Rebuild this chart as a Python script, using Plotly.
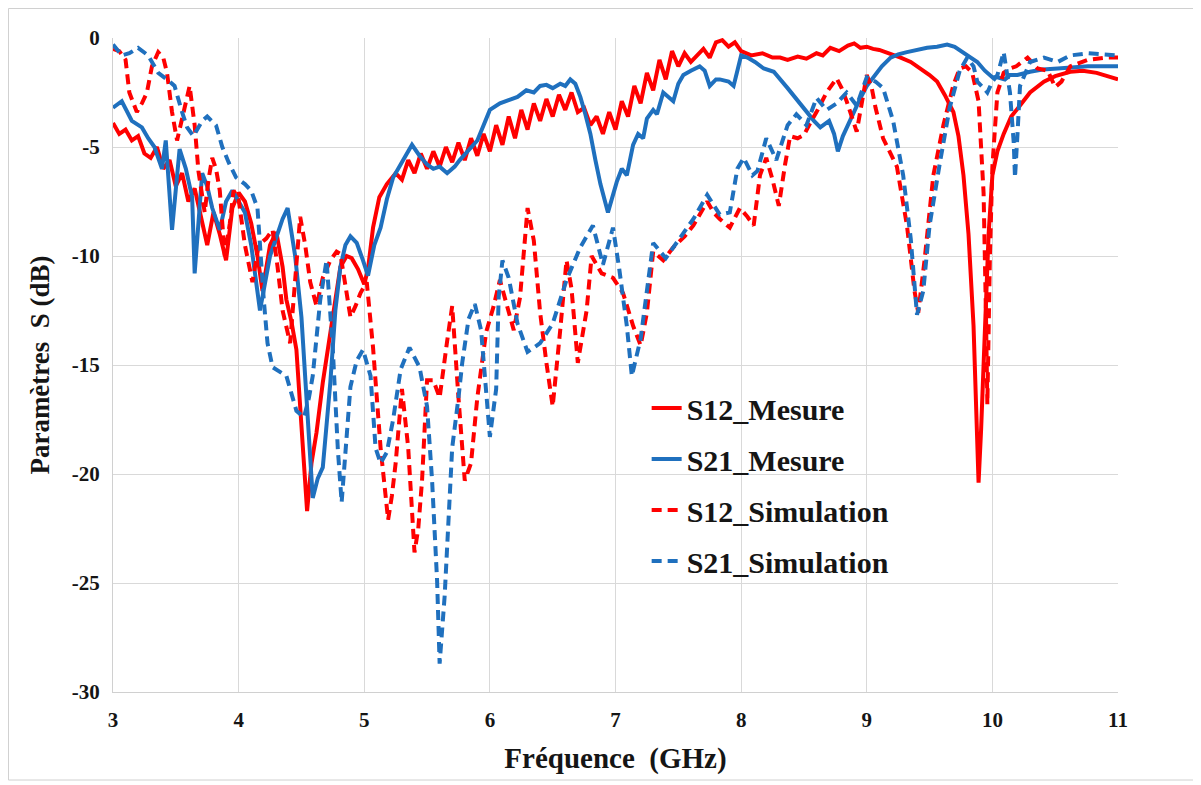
import plotly.graph_objects as go

# ---------------- data ----------------
s12_mes_f = [3.0, 3.05, 3.1, 3.15, 3.2, 3.25, 3.3, 3.35, 3.4, 3.45, 3.5, 3.55, 3.6, 3.65, 3.7, 3.75, 3.8, 3.85,
             3.9, 3.95, 4.0, 4.05, 4.1, 4.15, 4.19, 4.25, 4.3, 4.35, 4.38, 4.42, 4.46, 4.5, 4.545, 4.58, 4.62,
             4.67, 4.73, 4.78, 4.81, 4.86, 4.9, 4.95, 5.0, 5.03, 5.07, 5.12, 5.18, 5.25, 5.3, 5.35, 5.4, 5.45,
             5.5, 5.55, 5.6, 5.65, 5.7, 5.75, 5.8, 5.85, 5.9, 5.95, 6.0, 6.05, 6.1, 6.15, 6.2, 6.25, 6.3, 6.35,
             6.4, 6.45, 6.5, 6.55, 6.6, 6.65, 6.7, 6.75, 6.8, 6.85, 6.9, 6.95, 7.0, 7.05, 7.1, 7.15, 7.2, 7.25,
             7.3, 7.35, 7.4, 7.45, 7.5, 7.55, 7.6, 7.65, 7.7, 7.75, 7.8, 7.85, 7.9, 7.95, 8.0, 8.08, 8.17, 8.25,
             8.31, 8.37, 8.45, 8.52, 8.6, 8.65, 8.71, 8.78, 8.85, 8.9, 8.95, 9.0, 9.05, 9.1, 9.18, 9.27, 9.35,
             9.43, 9.5, 9.56, 9.62, 9.69, 9.73, 9.77, 9.81, 9.85, 9.87, 9.89, 9.91, 9.94, 9.97, 10.0, 10.04,
             10.09, 10.15, 10.22, 10.3, 10.41, 10.5, 10.62, 10.72, 10.83, 10.92, 11.0]
s12_mes_db = [-3.9, -4.4, -4.2, -4.7, -4.5, -5.3, -5.5, -5.0, -6.0, -5.6, -6.8, -6.2, -7.5, -6.9, -8.2, -9.5, -8.0, -9.0,
              -10.2, -7.8, -7.1, -7.5, -8.5, -10.0, -11.6, -9.5, -8.9, -10.5, -12.0, -13.0, -14.3, -17.5, -21.7, -19.5, -18.1,
              -15.8, -13.5, -11.5, -10.5, -10.0, -10.1, -10.6, -11.3, -10.6, -8.7, -7.3, -6.7, -6.2, -6.5, -5.6, -6.2, -5.3,
              -6.0, -5.2, -5.9, -5.0, -5.7, -4.8, -5.6, -4.6, -5.4, -4.4, -5.2, -4.0, -4.9, -3.6, -4.6, -3.3, -4.2, -3.0,
              -3.8, -2.8, -3.6, -2.6, -3.3, -2.5, -3.4, -3.2, -4.0, -3.6, -4.4, -3.4, -4.2, -2.9, -3.6, -2.2, -3.0, -1.6,
              -2.4, -1.0, -1.9, -0.6, -1.3, -0.7, -1.1, -0.8, -0.5, -0.9, -0.2, -0.1, -0.4, -0.2, -0.6, -0.8, -0.7, -0.9,
              -0.9, -1.0, -0.85, -0.95, -0.7, -0.8, -0.45, -0.6, -0.35, -0.25, -0.45, -0.4, -0.5, -0.55, -0.7, -0.9, -1.1,
              -1.4, -1.7, -2.0, -2.6, -3.4, -4.5, -6.3, -9.0, -13.2, -17.0, -20.4, -18.0, -13.2, -9.0, -6.3, -5.2,
              -4.4, -3.6, -3.1, -2.5, -2.0, -1.75, -1.55, -1.5, -1.6, -1.75, -1.9]

s21_mes_f = [3.0, 3.07, 3.15, 3.23, 3.28, 3.33, 3.39, 3.42, 3.47, 3.53, 3.58, 3.63, 3.65, 3.71, 3.75, 3.79, 3.85,
             3.9, 3.95, 4.0, 4.05, 4.1, 4.17, 4.25, 4.3, 4.35, 4.39, 4.45, 4.5, 4.55, 4.59, 4.63, 4.67, 4.73, 4.77,
             4.81, 4.85, 4.89, 4.94, 4.99, 5.03, 5.08, 5.13, 5.18, 5.23, 5.31, 5.38, 5.44, 5.5, 5.55, 5.6, 5.66,
             5.72, 5.76, 5.82, 5.9, 5.95, 6.0, 6.08, 6.16, 6.22, 6.29, 6.35, 6.4, 6.45, 6.5, 6.56, 6.6, 6.64, 6.68,
             6.72, 6.76, 6.8, 6.84, 6.88, 6.94, 6.98, 7.01, 7.05, 7.09, 7.14, 7.18, 7.22, 7.25, 7.3, 7.33, 7.38,
             7.42, 7.46, 7.5, 7.54, 7.6, 7.67, 7.71, 7.75, 7.8, 7.83, 7.9, 7.94, 7.97, 8.0, 8.05, 8.11, 8.18, 8.26,
             8.37, 8.45, 8.52, 8.58, 8.63, 8.7, 8.74, 8.77, 8.81, 8.85, 8.9, 8.95, 9.0, 9.05, 9.12, 9.19, 9.25,
             9.32, 9.4, 9.48, 9.56, 9.64, 9.7, 9.74, 9.8, 9.88, 9.94, 10.0, 10.04, 10.1, 10.14, 10.2, 10.3, 10.4,
             10.52, 10.65, 10.76, 10.9, 11.0]
s21_mes_db = [-3.2, -2.9, -3.8, -4.1, -4.6, -5.0, -6.0, -4.7, -8.8, -5.1, -6.0, -7.3, -10.8, -6.2, -6.8, -7.8, -8.8,
              -7.5, -7.0, -7.5, -8.0, -9.5, -12.5, -10.0, -9.2, -8.3, -7.8, -10.0, -12.8, -17.5, -21.1, -20.2, -19.7, -15.8, -12.5,
              -10.5, -9.5, -9.1, -9.4, -10.2, -10.9, -9.5, -8.7, -7.4, -6.4, -5.6, -4.9, -5.4, -5.8, -6.0, -5.9, -6.2,
              -5.9, -5.6, -5.2, -4.7, -4.0, -3.3, -3.0, -2.8, -2.7, -2.4, -2.5, -2.2, -2.15, -2.3, -2.1, -2.2, -1.9, -2.1,
              -2.7, -3.5, -4.4, -5.6, -6.7, -8.0, -7.2, -6.6, -6.0, -6.3, -4.9, -4.4, -4.6, -3.7, -3.3, -3.5, -2.5,
              -2.7, -2.9, -2.1, -1.7, -1.5, -1.3, -1.5, -2.2, -1.9, -1.9, -2.0, -2.2, -1.5, -0.8, -0.9, -1.1, -1.4, -1.55,
              -2.3, -2.9, -3.4, -3.8, -4.1, -3.8, -4.4, -5.2, -4.5, -4.0, -3.3, -2.75, -2.2, -1.8, -1.3, -0.9, -0.75,
              -0.65, -0.55, -0.45, -0.4, -0.3, -0.4, -0.55, -0.8, -1.1, -1.5, -1.8, -1.8, -1.9, -1.7, -1.7, -1.55, -1.45,
              -1.4, -1.35, -1.3, -1.3, -1.3]

s12_sim_f = [3.0, 3.05, 3.1, 3.13, 3.19, 3.23, 3.27, 3.31, 3.36, 3.4, 3.43, 3.47, 3.51, 3.54, 3.57, 3.61, 3.65, 3.68,
             3.73, 3.76, 3.79, 3.82, 3.85, 3.89, 3.93, 3.96, 4.0, 4.05, 4.11, 4.16, 4.22, 4.27, 4.31, 4.35, 4.41,
             4.45, 4.49, 4.53, 4.57, 4.62, 4.67, 4.73, 4.78, 4.81, 4.85, 4.89, 4.93, 4.97, 5.02, 5.07, 5.13, 5.19,
             5.22, 5.25, 5.3, 5.35, 5.4, 5.43, 5.46, 5.5, 5.55, 5.6, 5.66, 5.7, 5.75, 5.8, 5.85, 5.9, 5.97, 6.03,
             6.08, 6.13, 6.19, 6.24, 6.3, 6.35, 6.4, 6.45, 6.5, 6.56, 6.61, 6.65, 6.7, 6.77, 6.81, 6.89, 6.98, 7.06,
             7.14, 7.2, 7.25, 7.3, 7.38, 7.46, 7.55, 7.62, 7.68, 7.73, 7.78, 7.83, 7.91, 7.99, 8.05, 8.1, 8.15, 8.2,
             8.25, 8.3, 8.35, 8.39, 8.45, 8.5, 8.55, 8.6, 8.68, 8.76, 8.8, 8.84, 8.92, 8.96, 9.0, 9.04, 9.07, 9.13,
             9.24, 9.32, 9.38, 9.41, 9.46, 9.53, 9.61, 9.69, 9.74, 9.79, 9.84, 9.89, 9.93, 9.95, 9.96, 9.98, 10.0,
             10.04, 10.09, 10.14, 10.19, 10.28, 10.36, 10.44, 10.5, 10.55, 10.62, 10.76, 10.9, 11.0]
s12_sim_db = [-0.5, -0.6, -1.0, -2.5, -3.4, -3.0, -2.5, -1.3, -0.65, -0.9, -1.6, -3.4, -4.7, -4.0, -3.3, -2.2, -4.0, -6.1,
              -8.0, -6.5, -5.5, -6.0, -7.0, -10.0, -8.5, -7.0, -7.4, -9.5, -11.2, -9.5, -9.2, -8.8, -10.5, -12.5, -14.0,
              -11.0, -8.2, -9.5, -11.2, -12.3, -11.0, -10.2, -9.8, -9.9, -11.5, -12.8, -12.3, -11.7, -11.2, -14.2, -18.8, -22.1,
              -21.0, -19.5, -16.1, -18.8, -23.6, -22.5, -20.3, -15.7, -15.7, -16.5, -13.9, -12.3, -16.5, -20.3, -19.5, -16.5, -13.5, -12.3,
              -11.1, -12.2, -13.4, -11.9, -7.8, -9.3, -12.6, -14.9, -16.9, -13.4, -10.2, -11.5, -14.9, -12.5, -10.0, -10.8, -11.0, -11.7,
              -13.2, -14.1, -12.6, -9.8, -10.2, -9.6, -9.1, -8.6, -8.0, -7.5, -8.0, -8.3, -8.7, -7.8, -8.2, -8.6, -6.3, -5.5,
              -6.5, -7.7, -5.8, -4.5, -4.6, -4.45, -3.9, -3.4, -2.5, -1.85, -2.3, -2.9, -4.3, -3.0, -1.7, -2.3, -3.2, -4.6,
              -5.9, -8.6, -11.6, -12.6, -10.2, -6.3, -4.0, -2.15, -1.4, -1.3, -1.6, -2.9, -7.1, -13.0, -16.8, -10.1, -5.9,
              -2.5, -1.6, -1.4, -1.3, -0.9, -1.4, -1.5, -2.25, -2.0, -1.3, -1.0, -0.9, -0.9]

s21_sim_f = [3.0, 3.07, 3.13, 3.2, 3.28, 3.36, 3.43, 3.49, 3.55, 3.59, 3.64, 3.71, 3.75, 3.82, 3.87, 3.92, 3.98, 4.05,
             4.1, 4.15, 4.2, 4.23, 4.27, 4.33, 4.38, 4.46, 4.52, 4.56, 4.59, 4.65, 4.7, 4.75, 4.79, 4.82, 4.85, 4.89,
             4.94, 4.99, 5.05, 5.09, 5.13, 5.18, 5.23, 5.29, 5.36, 5.44, 5.5, 5.54, 5.58, 5.6, 5.64, 5.67, 5.7, 5.75,
             5.78, 5.83, 5.88, 5.93, 5.97, 6.0, 6.05, 6.07, 6.1, 6.15, 6.22, 6.3, 6.4, 6.5, 6.61, 6.72, 6.82, 6.9,
             6.98, 7.03, 7.09, 7.13, 7.2, 7.25, 7.3, 7.4, 7.51, 7.62, 7.73, 7.83, 7.91, 7.97, 8.02, 8.09, 8.13, 8.2,
             8.28, 8.37, 8.44, 8.52, 8.6, 8.68, 8.76, 8.84, 8.92, 9.0, 9.07, 9.13, 9.21, 9.29, 9.35, 9.4, 9.45, 9.5,
             9.58, 9.66, 9.74, 9.8, 9.85, 9.88, 9.93, 9.96, 10.0, 10.04, 10.09, 10.14, 10.17, 10.18, 10.2, 10.22,
             10.3, 10.41, 10.52, 10.62, 10.76, 10.9, 11.0]
s21_sim_db = [-0.3, -0.8, -0.7, -0.45, -0.8, -1.6, -1.9, -2.2, -3.4, -4.1, -4.5, -3.8, -3.6, -4.0, -5.0, -5.7, -6.4, -6.7,
              -7.0, -7.8, -12.0, -14.0, -15.1, -15.3, -15.5, -17.1, -17.4, -16.5, -15.5, -12.0, -10.2, -14.3, -18.9, -21.3, -19.0, -16.0,
              -14.8, -14.3, -15.5, -18.8, -19.5, -19.0, -17.5, -15.2, -14.2, -15.1, -16.9, -20.3, -24.9, -28.7, -25.6, -21.8, -18.8, -16.5,
              -14.9, -12.9, -12.2, -13.4, -16.5, -18.3, -16.1, -11.9, -10.2, -11.0, -13.1, -14.4, -14.0, -13.1, -11.1, -9.6, -8.6, -10.4,
              -8.7, -10.6, -13.2, -15.5, -13.8, -11.7, -9.4, -10.1, -9.2, -8.3, -7.2, -8.1, -8.0, -6.0, -5.5, -6.3, -6.1, -4.6,
              -5.6, -4.0, -3.5, -4.0, -2.75, -3.3, -3.0, -2.5, -3.1, -1.8, -2.0, -2.3, -3.8, -6.3, -9.2, -12.7, -11.6, -8.6,
              -5.8, -3.2, -1.5, -0.9, -1.3, -2.0, -2.3, -2.5, -2.0, -1.7, -0.65, -2.5, -4.8, -6.4, -4.4, -2.2,
              -1.1, -0.9, -1.1, -0.8, -0.7, -0.75, -0.8]

x_ticks = [3, 4, 5, 6, 7, 8, 9, 10, 11]
y_ticks = [0, -5, -10, -15, -20, -25, -30]

RED = "#FF0000"
BLUE = "#1F70BE"
FONT = "Liberation Serif"
TXT = "#151515"

fig = go.Figure()
fig.add_trace(go.Scatter(x=s12_mes_f, y=s12_mes_db, mode="lines", name="S12_Mesure",
                         legendgroup="a", line=dict(color=RED, width=4)))
fig.add_trace(go.Scatter(x=s21_mes_f, y=s21_mes_db, mode="lines", name="S21_Mesure",
                         legendgroup="b", line=dict(color=BLUE, width=4)))
fig.add_trace(go.Scatter(x=s12_sim_f, y=s12_sim_db, mode="lines", name="S12_Simulation",
                         legendgroup="c", line=dict(color=RED, width=4, dash="10px,6px")))
fig.add_trace(go.Scatter(x=s21_sim_f, y=s21_sim_db, mode="lines", name="S21_Simulation",
                         legendgroup="d", line=dict(color=BLUE, width=4, dash="10px,6px")))

fig.update_layout(
    width=1193, height=777,
    margin=dict(l=105, r=83, t=30, b=93),
    paper_bgcolor="white", plot_bgcolor="white",
    font=dict(family=FONT, color=TXT, size=21),
    legend=dict(x=0.531, y=0.474, xanchor="left", yanchor="top",
                bgcolor="rgba(255,255,255,0)", tracegroupgap=9,
                font=dict(family=FONT, size=30, color=TXT, weight="bold")),
    xaxis=dict(range=[3, 11], tickvals=x_ticks, ticktext=[str(v) for v in x_ticks],
               showgrid=True, gridcolor="#D9D9D9", gridwidth=1,
               showline=True, linecolor="#D0D0D0", linewidth=1, zeroline=False,
               ticks="", ticklabelstandoff=9,
               tickfont=dict(family=FONT, size=21, color=TXT, weight="bold"),
               title=dict(text="Fréquence  (GHz)", standoff=16,
                          font=dict(family=FONT, size=29, color=TXT, weight="bold"))),
    yaxis=dict(range=[-30, 0], tickvals=y_ticks, ticktext=[str(v) for v in y_ticks],
               showgrid=True, gridcolor="#D9D9D9", gridwidth=1,
               showline=True, linecolor="#D0D0D0", linewidth=1, zeroline=False,
               ticks="", ticklabelstandoff=8,
               tickfont=dict(family=FONT, size=21, color=TXT, weight="bold"),
               title=dict(text="Paramètres  S (dB)", standoff=14,
                          font=dict(family=FONT, size=27, color=TXT, weight="bold"))),
    shapes=[dict(type="rect", xref="paper", yref="paper",
                 x0=-0.1040, x1=1.0766, y0=-0.1346, y1=1.0451,
                 line=dict(color="#D0D0D0", width=1), fillcolor="rgba(0,0,0,0)", layer="below")],
)

fig.write_html("out.html")
